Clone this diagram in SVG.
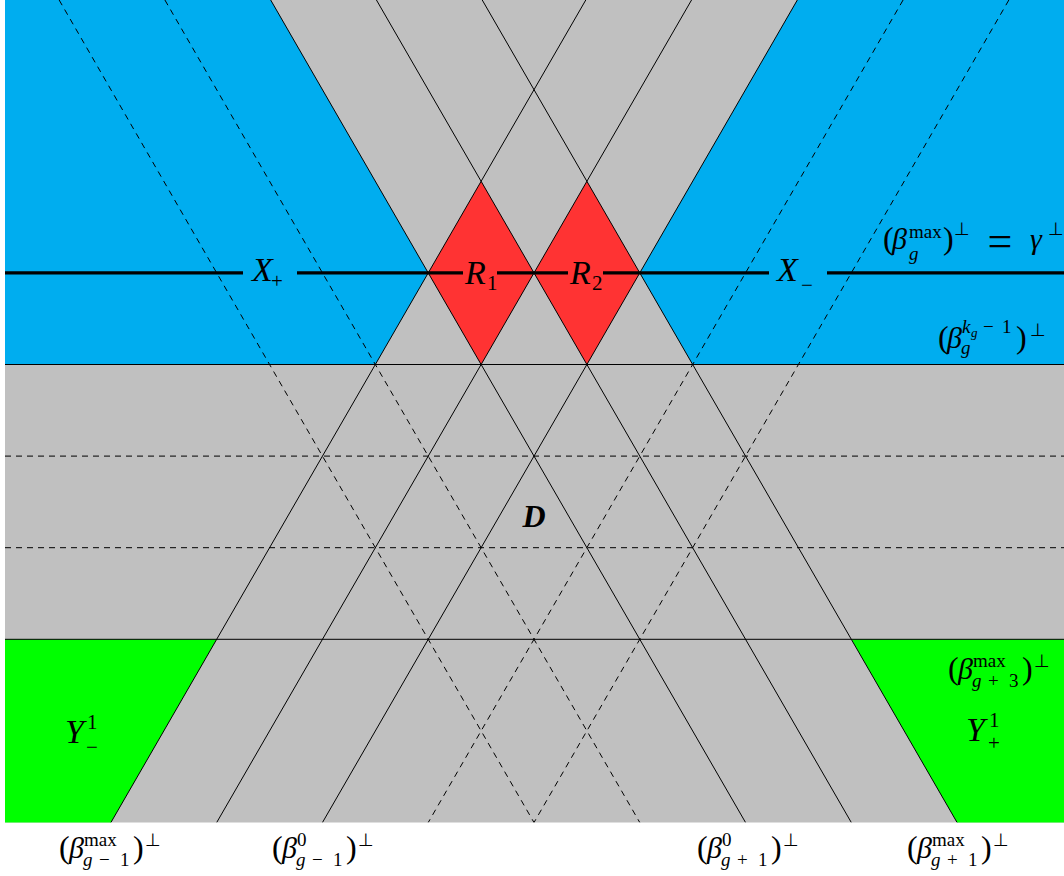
<svg xmlns="http://www.w3.org/2000/svg" width="1064" height="876" viewBox="0 0 1064 876">
<defs>
<clipPath id="clip"><rect x="5" y="0" width="1059" height="822.5"/></clipPath>
</defs>
<style>
.gray{fill:#c0c0c0}
.blue{fill:#00adef}
.green{fill:#00ff00}
.red{fill:#ff3333}
.ln{stroke:#000;stroke-width:1;fill:none}
.dl{stroke:#000;stroke-width:1;fill:none;stroke-dasharray:6 5}
.thick{stroke:#000;stroke-width:3.2;fill:none}
text{font-family:"Liberation Serif","DejaVu Serif",serif;fill:#000}
.big{font-size:34px;font-style:italic}
.bsub{font-size:21px}
.p{font-size:32px}
.mi{font-size:30px;font-style:italic}
.s{font-size:19px}
.si{font-size:19px;font-style:italic}
.ss{font-size:13px;font-style:italic}
.perp{font-family:"DejaVu Sans",sans-serif;font-size:18px}
.eq{font-size:44px}
.bold{font-size:32px;font-style:italic;font-weight:bold}
</style>

<rect id="background" class="gray" x="5" y="0" width="1059" height="822.5"/>

<g id="X-plus"><polygon class="blue" points="5,0 270.68,0 428.23,272.9 375.345,364.5 5,364.5"/></g>
<g id="X-minus"><polygon class="blue" points="797.33,0 1064,0 1064,364.5 692.655,364.5 639.77,272.9"/></g>
<g id="R1"><polygon class="red" points="481.115,181.3 534,272.9 481.115,364.5 428.23,272.9"/></g>
<g id="R2"><polygon class="red" points="586.885,181.3 639.77,272.9 586.885,364.5 534,272.9"/></g>
<g id="Y-minus"><polygon class="green" points="5,639.3 216.69,639.3 110.92,822.5 5,822.5"/></g>
<g id="Y-plus"><polygon class="green" points="851.32,639.3 1064,639.3 1064,822.5 957.09,822.5"/></g>

<g id="connectors" clip-path="url(#clip)">
<line class="dl" x1="59.14" y1="0" x2="534" y2="822.5"/>
<line class="dl" x1="164.9" y1="0" x2="639.78" y2="822.5"/>
<line class="ln" x1="270.68" y1="0" x2="745.55" y2="822.5"/>
<line class="ln" x1="376.45" y1="0" x2="851.32" y2="822.5"/>
<line class="ln" x1="482.22" y1="0" x2="957.09" y2="822.5"/>
<line class="ln" x1="585.79" y1="0" x2="110.92" y2="822.5"/>
<line class="ln" x1="691.56" y1="0" x2="216.69" y2="822.5"/>
<line class="ln" x1="797.33" y1="0" x2="322.46" y2="822.5"/>
<line class="dl" x1="903.1" y1="0" x2="428.23" y2="822.5"/>
<line class="dl" x1="1008.87" y1="0" x2="534" y2="822.5"/>
<line class="ln" x1="5" y1="364.5" x2="1064" y2="364.5"/>
<line class="dl" x1="5" y1="456.1" x2="1064" y2="456.1"/>
<line class="dl" x1="5" y1="547.7" x2="1064" y2="547.7"/>
<line class="ln" x1="5" y1="639.3" x2="1064" y2="639.3"/>
<line class="thick" x1="5" y1="272.9" x2="243" y2="272.9"/>
<line class="thick" x1="297" y1="272.9" x2="463" y2="272.9"/>
<line class="thick" x1="497" y1="272.9" x2="568" y2="272.9"/>
<line class="thick" x1="603" y1="272.9" x2="769" y2="272.9"/>
<line class="thick" x1="827" y1="272.9" x2="1064" y2="272.9"/>
</g>

<g id="labels">
<g id="lbl-Xplus"><text class="big" x="252" y="281">X</text><text class="bsub" x="271" y="288">+</text></g>
<g id="lbl-R1"><text class="big" x="465" y="284">R</text><text class="bsub" x="487" y="290">1</text></g>
<g id="lbl-R2"><text class="big" x="570" y="284">R</text><text class="bsub" x="592" y="290">2</text></g>
<g id="lbl-Xminus"><text class="big" x="777" y="281">X</text><text class="bsub" x="801" y="292">−</text></g>
<g id="lbl-Yminus"><text class="big" x="65" y="743">Y</text><text class="bsub" x="87" y="729">1</text><text class="bsub" x="86" y="754">−</text></g>
<g id="lbl-Yplus"><text class="big" x="966" y="741">Y</text><text class="bsub" x="989" y="727">1</text><text class="bsub" x="988" y="750">+</text></g>
<g id="lbl-D"><text class="bold" x="534" y="527" text-anchor="middle">D</text></g>

<g id="lbl-gamma">
<text class="p" x="883" y="249">(</text><text class="mi" x="892" y="249">β</text>
<text class="s" x="909" y="238">max</text><text class="si" x="909" y="260">g</text>
<text class="p" x="943" y="249">)</text><text class="perp" x="954" y="235">⊥</text>
<text class="eq" x="1000" y="256" text-anchor="middle">=</text>
<text class="mi" x="1030" y="249">γ</text><text class="perp" x="1048" y="235">⊥</text>
</g>

<g id="lbl-kg">
<text class="p" x="938" y="348">(</text><text class="mi" x="947" y="348">β</text>
<text class="si" x="962" y="333">k</text><text class="ss" x="971" y="337">g</text>
<text class="s" x="983" y="333">−</text><text class="s" x="1002" y="333">1</text>
<text class="si" x="961" y="354">g</text>
<text class="p" x="1016" y="348">)</text><text class="perp" x="1030" y="336">⊥</text>
</g>

<g id="lbl-g3max">
<text class="p" x="948" y="679">(</text><text class="mi" x="958" y="679">β</text>
<text class="s" x="973" y="667">max</text>
<text class="si" x="972" y="687">g</text><text class="s" x="988" y="687">+</text><text class="s" x="1009" y="687">3</text>
<text class="p" x="1022" y="679">)</text><text class="perp" x="1034" y="667">⊥</text>
</g>

<g id="lbl-gm1max">
<text class="p" x="59" y="858">(</text><text class="mi" x="69" y="858">β</text>
<text class="s" x="84" y="846">max</text>
<text class="si" x="83" y="866">g</text><text class="s" x="99" y="866">−</text><text class="s" x="120" y="866">1</text>
<text class="p" x="133" y="858">)</text><text class="perp" x="145" y="846">⊥</text>
</g>

<g id="lbl-gm10">
<text class="p" x="272" y="858">(</text><text class="mi" x="282" y="858">β</text>
<text class="s" x="297" y="846">0</text>
<text class="si" x="296" y="866">g</text><text class="s" x="312" y="866">−</text><text class="s" x="333" y="866">1</text>
<text class="p" x="346" y="858">)</text><text class="perp" x="358" y="846">⊥</text>
</g>

<g id="lbl-gp10">
<text class="p" x="697" y="858">(</text><text class="mi" x="707" y="858">β</text>
<text class="s" x="722" y="846">0</text>
<text class="si" x="721" y="866">g</text><text class="s" x="737" y="866">+</text><text class="s" x="758" y="866">1</text>
<text class="p" x="771" y="858">)</text><text class="perp" x="783" y="846">⊥</text>
</g>

<g id="lbl-gp1max">
<text class="p" x="907" y="858">(</text><text class="mi" x="917" y="858">β</text>
<text class="s" x="932" y="846">max</text>
<text class="si" x="931" y="866">g</text><text class="s" x="947" y="866">+</text><text class="s" x="968" y="866">1</text>
<text class="p" x="981" y="858">)</text><text class="perp" x="993" y="846">⊥</text>
</g>
</g>
</svg>
